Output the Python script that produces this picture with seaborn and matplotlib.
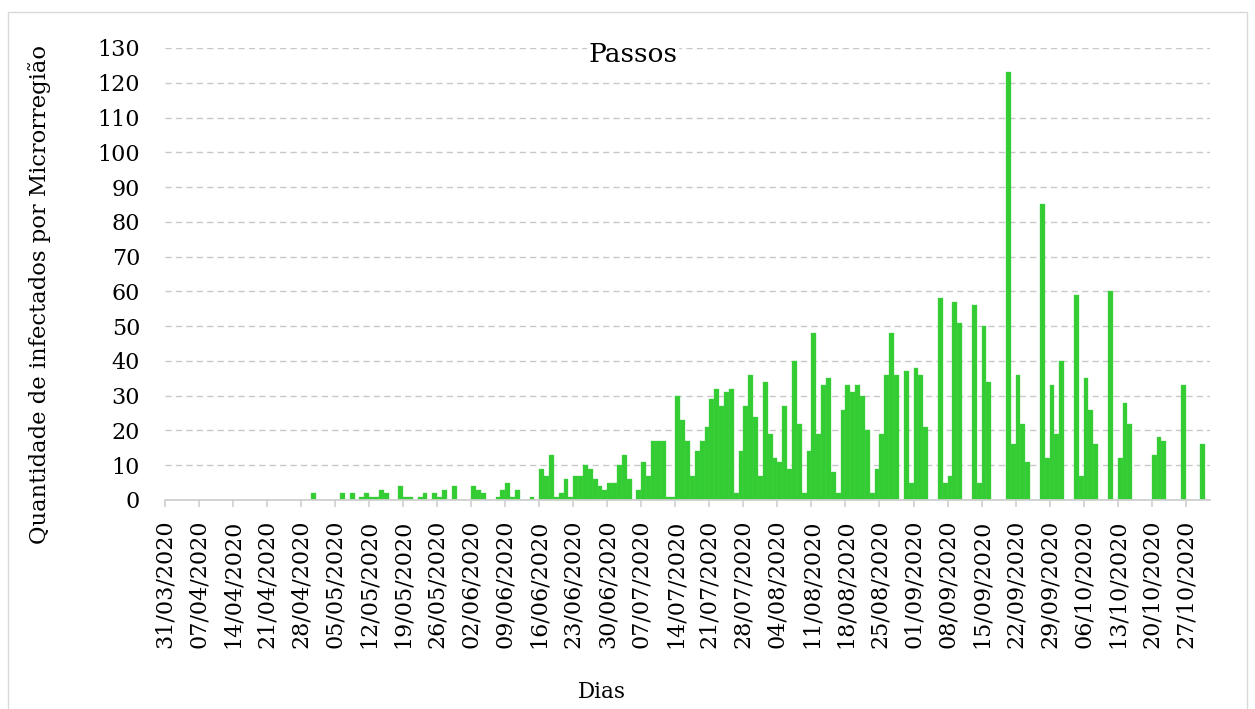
import matplotlib
matplotlib.use("Agg")
import matplotlib.pyplot as plt
from matplotlib.patches import Rectangle
import seaborn as sns
import pandas as pd

# ---- data -------------------------------------------------------------
start_date = "2020-03-31"
end_date = "2020-10-31"
title = "Passos"
x_label = "Dias"
y_label = "Quantidade de infectados por Microrregião"

# daily counts, one value per day from 31/03/2020 to 31/10/2020 (7 per row)
casos = [
    0, 0, 0, 0, 0, 0, 0,        # 31/03
    0, 0, 0, 0, 0, 0, 0,        # 07/04
    0, 0, 0, 0, 0, 0, 0,        # 14/04
    0, 0, 0, 0, 0, 0, 0,        # 21/04
    0, 0, 2, 0, 0, 0, 0,        # 28/04
    0, 2, 0, 2, 0, 1, 2,        # 05/05
    1, 1, 3, 2, 0, 0, 4,        # 12/05
    1, 1, 0, 1, 2, 0, 2,        # 19/05
    1, 3, 0, 4, 0, 0, 0,        # 26/05
    4, 3, 2, 0, 0, 1, 3,        # 02/06
    5, 1, 3, 0, 0, 1, 0,        # 09/06
    9, 7, 13, 1, 2, 6, 1,       # 16/06
    7, 7, 10, 9, 6, 4, 3,       # 23/06
    5, 5, 10, 13, 6, 0, 3,      # 30/06
    11, 7, 17, 17, 17, 1, 1,    # 07/07
    30, 23, 17, 7, 14, 17, 21,  # 14/07
    29, 32, 27, 31, 32, 2, 14,  # 21/07
    27, 36, 24, 7, 34, 19, 12,  # 28/07
    11, 27, 9, 40, 22, 2, 14,   # 04/08
    48, 19, 33, 35, 8, 2, 26,   # 11/08
    33, 31, 33, 30, 20, 2, 9,   # 18/08
    19, 36, 48, 36, 0, 37, 5,   # 25/08
    38, 36, 21, 0, 0, 58, 5,    # 01/09
    7, 57, 51, 0, 0, 56, 5,     # 08/09
    50, 34, 0, 0, 0, 123, 16,   # 15/09
    36, 22, 11, 0, 0, 85, 12,   # 22/09
    33, 19, 40, 0, 0, 59, 7,    # 29/09
    35, 26, 16, 0, 0, 60, 0,    # 06/10
    12, 28, 22, 0, 0, 0, 0,     # 13/10
    13, 18, 17, 0, 0, 0, 33,    # 20/10
    0, 0, 0, 16, 0,             # 27/10
]

y_ticks = list(range(0, 131, 10))
tick_every_days = 7

dias = pd.date_range(start_date, end_date, freq="D")
df = pd.DataFrame({"dia": dias.strftime("%d/%m/%Y"), "casos": casos})

# ---- figure -----------------------------------------------------------
serif = ["DejaVu Serif"]
plt.rcParams["font.family"] = serif

W, H = 1255, 709
fig = plt.figure(figsize=(W / 100, H / 100), dpi=100)
ax = fig.add_axes([165 / W, 1 - 500 / H, (1210 - 165) / W, (500 - 48) / H])

sns.barplot(data=df, x="dia", y="casos", order=list(df["dia"]),
            color="#33CC33", saturation=1, width=1.0, linewidth=0.25,
            edgecolor="#48d248", ax=ax, zorder=3)

ax.set_xlim(-0.5, len(df) - 0.5)
ax.set_ylim(y_ticks[0], y_ticks[-1])

tick_idx = list(range(0, len(df), tick_every_days))
ax.set_xticks([i - 0.5 for i in tick_idx])
ax.set_xticklabels([df["dia"][i] for i in tick_idx], rotation=90,
                   fontsize=16, va="top", ha="center")
ax.tick_params(axis="x", length=5, width=1.2, color="#d0d0d0", pad=9,
               labelcolor="#000000")

ax.set_yticks(y_ticks)
ax.set_yticklabels([str(v) for v in y_ticks], fontsize=16)
ax.tick_params(axis="y", length=0, pad=18)

ax.set_xlabel("")
ax.set_ylabel("")
for s in ["top", "right", "left"]:
    ax.spines[s].set_visible(False)
ax.spines["bottom"].set_color("#d0d0d0")
ax.spines["bottom"].set_linewidth(1.3)
ax.spines["bottom"].set_zorder(4)

for v in y_ticks[1:]:
    ax.axhline(v, color="#c8c8c8", linewidth=1.0, linestyle=(0, (4.5, 3)),
               zorder=1)

fig.text(633 / W, 1 - 55 / H, title, ha="center", va="center", fontsize=19,
         bbox=dict(facecolor="white", edgecolor="none", pad=1))
fig.text(40 / W, 1 - 295 / H, y_label, rotation=90, ha="center",
         va="center", fontsize=16.3)
fig.text(602 / W, 1 - 692 / H, x_label, ha="center", va="center",
         fontsize=15.5)

fig.patches.append(Rectangle((8 / W, -0.05), (1247 - 8) / W,
                             1 - 12 / H + 0.05, transform=fig.transFigure,
                             fill=False, edgecolor="#d9d9d9", linewidth=1.0))

fig.savefig("out.png", dpi=100, facecolor="white")
